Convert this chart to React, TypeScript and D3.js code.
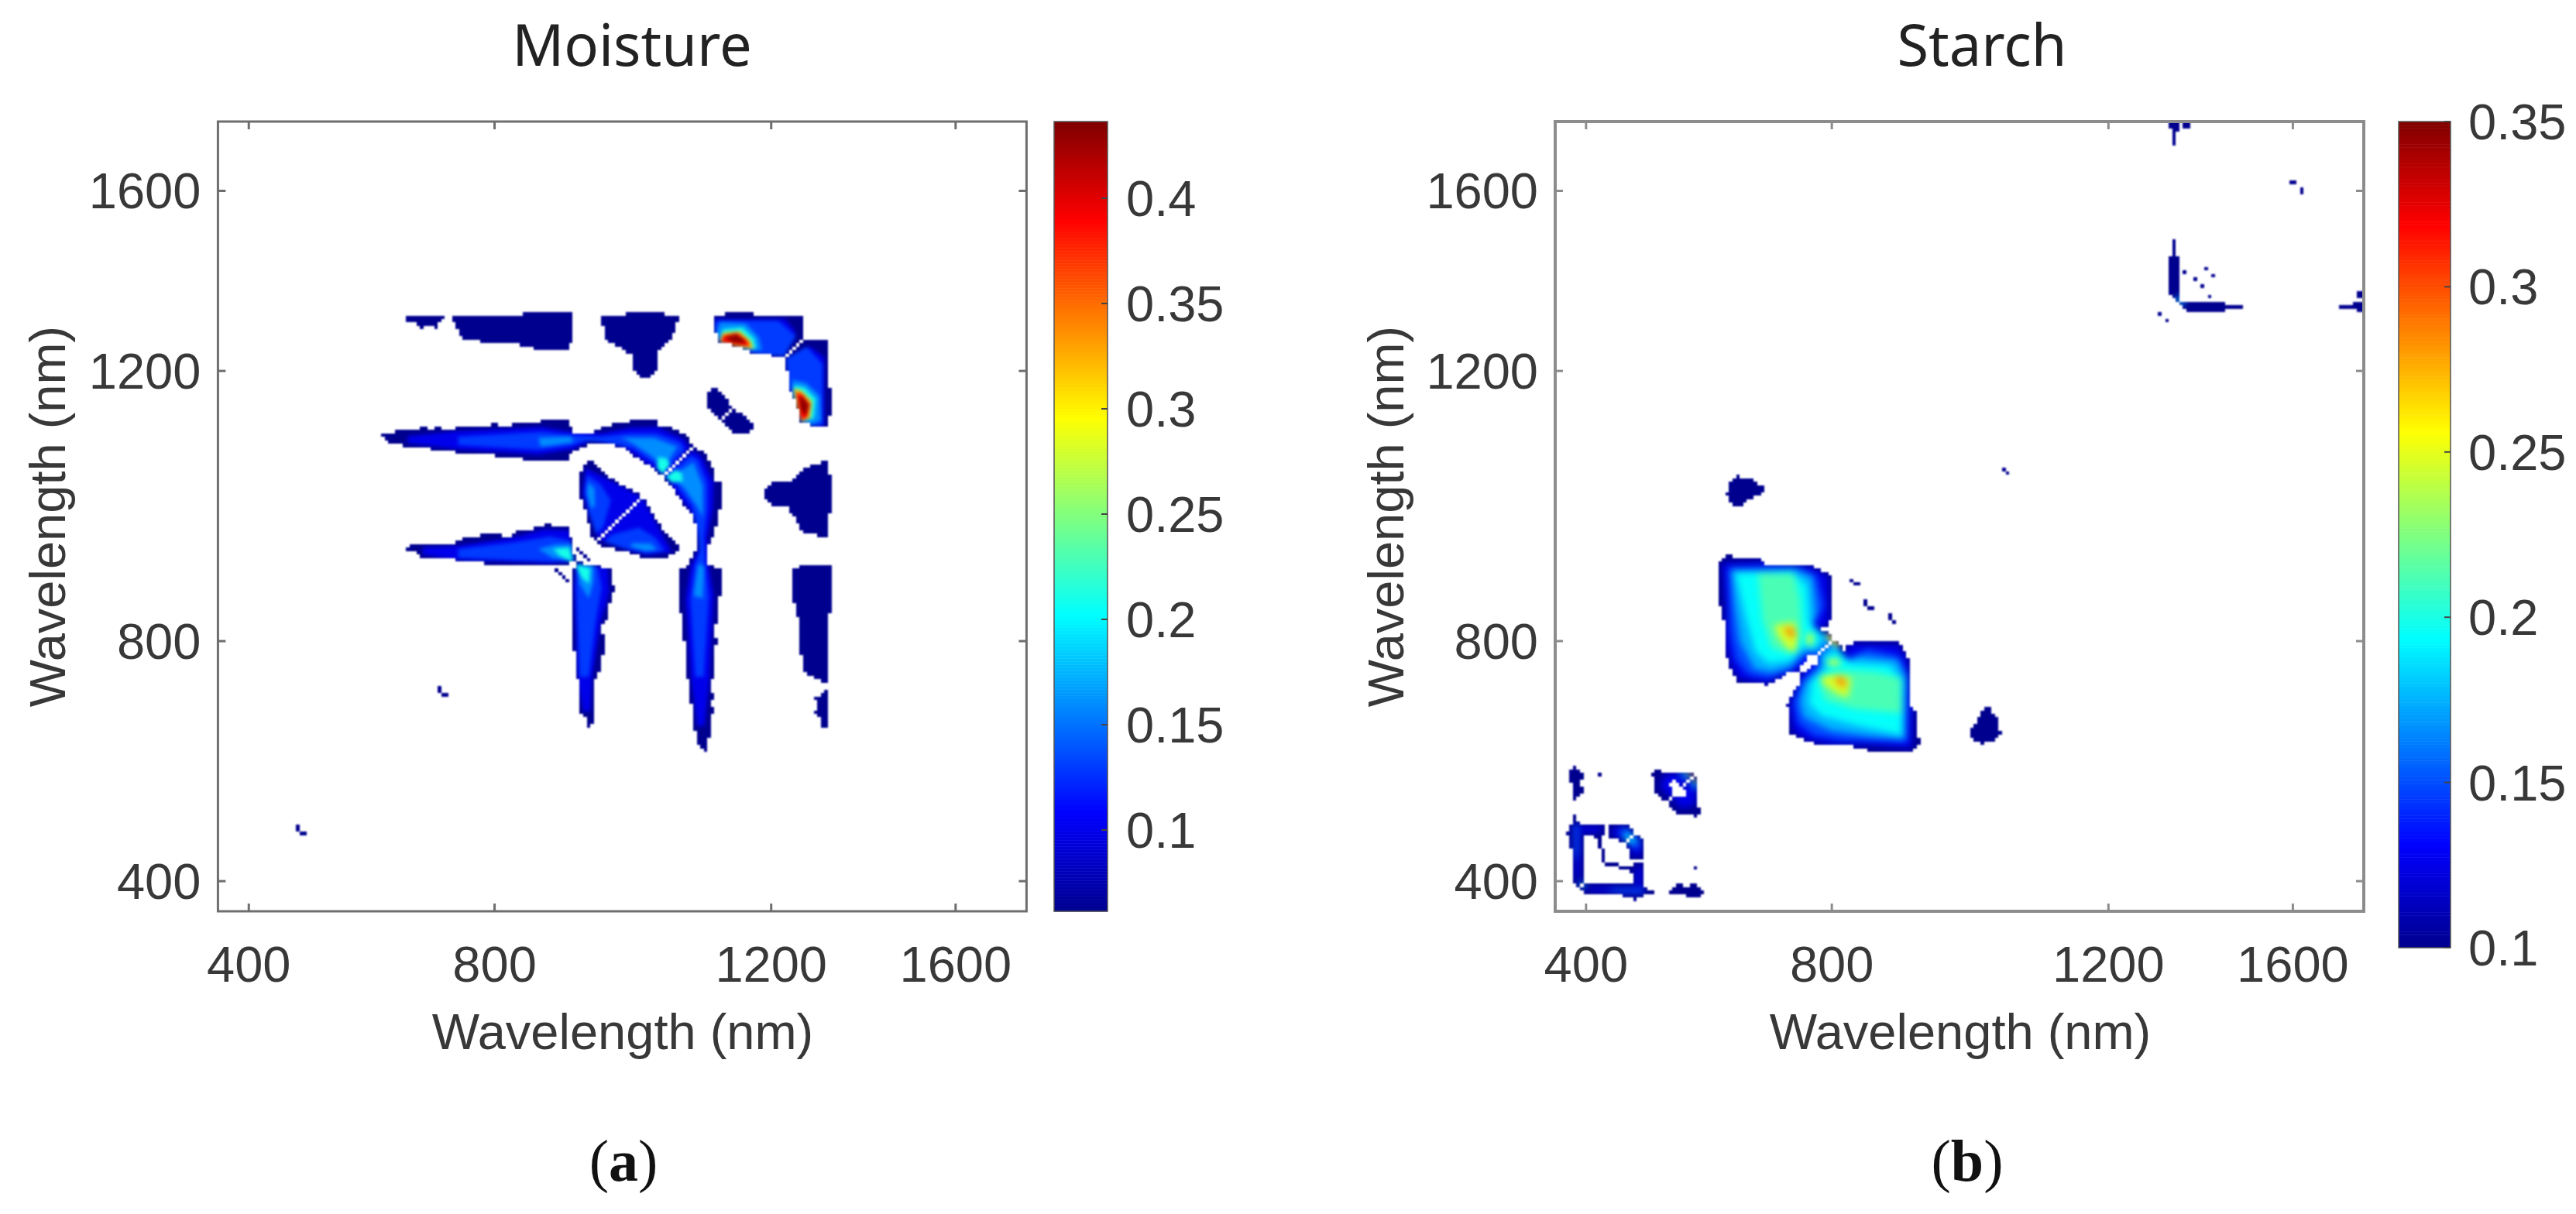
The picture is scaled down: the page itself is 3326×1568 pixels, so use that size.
import React, { useMemo } from 'react';
import * as d3 from 'd3';

type Pt = number[];
type Layer = { value: number; polys: Pt[][] };

// matrix is symmetric about the diagonal, so only the half above it is listed
// all coordinates below are band indices of the wavelength matrix
const bandCount = 228;
const tickBands = [8.7, 78, 156, 208];
const tickLabels = ['400', '800', '1200', '1600'];

const moistureCbTicks = [0.1, 0.15, 0.2, 0.25, 0.3, 0.35, 0.4];
const starchCbTicks = [0.1, 0.15, 0.2, 0.25, 0.3, 0.35];

const moistureOutlines: Pt[][] = [
  [[52.4,172],[63.8,172],[62.7,170],[61.9,168.2],[60.9,168.2],[60.4,169.4],[58.7,169.4],[58.4,168.2],[56.9,168.2],[56.4,169.5],[53.9,169.7]],
  [[65.6,172],[86.3,172],[86.3,173.2],[98.9,173.2],[100,172],[100,164.3],[99,164],[98.9,161.8],[92,161.8],[88.6,162.5],[84.6,163],[84.6,164.3],[79.8,164.4],[76.1,164.3],[69.8,164.8],[67.7,167.1],[66.7,169.7]],
  [[107.6,172],[115.5,172],[115.5,173.2],[125.8,173.2],[125.8,172],[130.4,172],[129.1,168.4],[127.7,165.4],[124.1,161.5],[123.5,155.7],[121.6,153.8],[120,153.8],[117.4,155.7],[117.2,160.2],[113.7,162.4],[109.3,164.9],[108.5,168.8]],
  [[139.6,172],[143.1,172],[143.1,173.2],[150.9,173.2],[150.9,172],[164.6,172],[164.8,165],[159.6,160.2],[151.3,161],[148.8,162.4],[141.3,164.5],[139.8,168.4]],
  [[137.9,150],[140,151.2],[142.5,149.1],[145.3,145.3],[141.4,141.4],[139.4,144],[137.9,146.1]],
  [[46,138],[56.9,139.3],[57.3,140.1],[58.7,140.1],[59,139.1],[61,139.1],[61.4,140.1],[62.7,140.1],[62.9,138.8],[67.3,138.8],[67.3,140.1],[76.5,140.1],[76.9,140.7],[79,140.7],[79.4,140.1],[83.2,140.1],[83.6,140.7],[91.3,140.7],[91.5,141.8],[98.6,141.8],[100,139.3],[100,138.2],[105.3,138.2],[107.8,139.3],[111.2,140.5],[115.3,140.8],[115.8,141.8],[123.7,141.8],[124.5,140.5],[128.7,139.3],[132,137.5],[134,134],[125.5,125.5],[121.2,129],[117,131.6],[114.5,133.7],[110.3,135.2],[105.3,135.4],[102.8,134.1],[100,132.8],[99,131.6],[98.6,130.3],[86.3,130.3],[86.1,131.4],[70.6,131.6],[67.3,132],[67.3,133.3],[52.7,133.7],[51.8,134.6],[48.1,135.4]],
  [[103.6,129.4],[105.7,130.3],[108.7,126.4],[112,124.3],[120,120],[107,107],[105.5,108],[103.6,115.3],[101.8,120.9],[102.4,126.9]],
  [[52.8,105.4],[57.7,105.9],[67.3,106.3],[67.3,107.2],[69.8,107.8],[74,107.8],[74.2,108.9],[79.8,108.9],[80.3,107.8],[82.6,107.8],[83.2,109.3],[87.8,110.2],[92,111.4],[92.1,112.5],[93.6,112.5],[93.8,111.2],[98.6,111.2],[99.5,108],[100,105.9],[101,101],[96,99.9],[93.6,99.9],[74.8,100.1],[74.4,100.7],[66.9,100.7],[66.9,102],[57.3,102.5],[57.3,103.3],[53.5,104.2]],
  [[62,66],[64,64],[63,63],[62,63.5]],
  [[22,25],[24,24],[23,23],[22,23]],
];

const moistureSpecks: Pt[] = [[101,104],[102,103],[103,102],[95,98],[97,96]];

const moistureHoles: Pt[][] = [];

const moistureLayers: Layer[] = [
  { value: 0.1, polys: [
    [[140,171],[160,171],[163,167],[159.6,161],[151,161.5],[141.5,165],[140,168]],
    [[53.5,137.2],[67.3,138.6],[91.1,139.8],[100,138.4],[107.8,138],[116.2,139.6],[123.7,139.8],[131.2,136.4],[133,134],[126,125.8],[120.4,129.6],[114.5,134],[105.3,136],[100,133.4],[90.3,131.8],[67.3,133.4],[53.5,135.2]],
    [[103.7,128],[108.2,125.6],[119.4,119.6],[107.2,107.6],[104.4,115.3],[102.8,120.9]],
    [[57.7,105],[67.3,105.5],[82.8,107.8],[92,110.3],[99,110],[100.4,101],[93.6,100.4],[67.3,101.4],[57.7,103]],
  ] },
  { value: 0.13, polys: [
    [[140.4,170.5],[158,170.5],[163,166],[159.6,160.2],[151,161],[148,162.4],[141.3,164.5],[140,168.4]],
    [[67.7,137],[91.1,138.4],[99.5,137.5],[107.8,137],[116.2,138],[123.7,138],[130.4,135.4],[131.6,133.3],[126.4,127.4],[122.9,129.4],[117,133.6],[109.5,135.4],[103.6,135.8],[99.5,134.4],[90.3,133.2],[67.7,134.6]],
    [[104,126],[107.8,123.4],[110.8,118.7],[108.7,111],[106.6,109],[104.6,115.3],[103.4,120.9]],
    [[67.7,104.6],[82.8,106.4],[93.6,108.2],[99.5,107],[100,101],[93.6,101],[67.7,102]],
  ] },
  { value: 0.16, polys: [
    [[141.7,170.1],[148.8,169.7],[152.5,165.8],[153.4,161.9],[148.8,162.4],[141.3,164.5],[140.4,167.1]],
    [[90.3,136.7],[99.5,137.1],[100.3,135.4],[91.1,134.1]],
    [[113.7,136.7],[122.9,136.7],[129.6,134.1],[125.8,128.1],[122,131.6],[117,135]],
    [[104.3,123.9],[106.2,122.1],[106.3,117],[105.3,116.2],[104,120.4]],
    [[90.3,104.6],[95.3,105.9],[99.9,105.9],[100.3,101.2],[94.5,102]],
  ] },
  { value: 0.21, polys: [
    [[142.3,168],[147.9,168.6],[151.2,165.4],[151.8,162.2],[148.8,162.2],[141.3,164.3]],
    [[124.1,131.1],[126.6,130.7],[127.5,129],[125.5,126.2],[123.7,128.1]],
    [[94.5,104.6],[99,105],[100.1,100.7],[96.5,102.5]],
  ] },
  { value: 0.32, polys: [[[142.4,167],[147.2,167.5],[150.2,164.7],[151,162.4],[145.4,163.2],[141.4,164.5]]] },
  { value: 0.39, polys: [[[142.6,166.2],[146.4,167],[149.2,164.8],[149.9,163],[145.4,163.7],[141.9,164.5]]] },
  { value: 0.43, polys: [[[143,165.8],[146.3,166.6],[148.4,165],[148.6,164],[145,164.2]]] },
];

const starchOutlines: Pt[][] = [
  [[45.6,100],[48.1,102.6],[58.3,101.9],[59,100.4],[66,100.4],[72.1,100],[78,97],[78.3,88.8],[77.2,82.1],[73.2,81],[76.5,80.6],[79.8,77.6],[66,66],[63,67.2],[60.1,65.3],[51.4,66.4],[49.2,70.2],[47.7,75.4],[47.4,88.1],[46,88.4]],
  [[48.8,122.8],[51.1,125.7],[55.7,125],[56.9,123.5],[59.7,122.4],[58,120.1],[54.6,119],[53.4,117.4],[49.9,117.4],[48.3,120.1]],
  [[27.4,40.3],[29.2,41.8],[30.6,40.3],[37.6,40.3],[39.4,39.4],[31,31],[28.8,33.6],[27.7,35.9]],
  [[4.1,40],[5.5,41.8],[7,40.7],[8.4,39.2],[7,36.6],[7.7,35.1],[7.3,32.9],[5.2,32.1],[4.7,35.9]],
  [[3,22.6],[4.4,24.7],[5.5,27.7],[7.3,25],[13.5,25],[13.9,22.1],[13,20.9],[14.2,14],[13,14],[12.2,21],[10.6,22.1],[8.4,21.7],[8.1,13.5],[7.9,8],[7,7],[5.5,8],[4.8,14],[4.4,20]],
  [[15.4,24.7],[20.8,25.1],[22.5,22.5],[20,20],[15,21.3]],
  [[173.3,188.7],[174.4,189.5],[174.4,193.6],[175.2,193.6],[175.2,189.5],[176.2,188.7],[176.2,177],[175.5,175.5],[173.3,178]],
  [[173.2,228],[176.5,228],[176.5,226],[175.2,225],[175.2,220.8],[174.3,220.8],[174.3,225],[173.2,226]],
  [[176.9,228],[178.7,228],[178.7,226.2],[176.9,226.2]],
  [[206,211.5],[209,211.5],[209.8,209.8],[207,210]],
];

const starchSpecks: Pt[] = [[84,94],[85,94],[83,95],[87,89],[88,87],[126,127],[12,39],[177,184],[180,182],[183,185],[170,172]];

const starchHoles: Pt[][] = [
  [[68.8,70.6],[72.1,74.2],[74.2,73],[71,69.4]],
  [[63.4,67.2],[66.3,69.6],[69.2,67.2],[66.3,63.6],[64.4,64.8]],
  [[32.5,36.6],[33.9,37.7],[37.6,33.6],[36.1,32.1],[33.9,33.6]],
];

const starchLayers: Layer[] = [
  { value: 0.125, polys: [
    [[47,100.6],[58,101],[71.8,99.6],[77,96.8],[77.2,83],[72.8,81.2],[79,78.4],[74,73],[71,71],[67.4,68.8],[63,67.2],[60.1,65.8],[51.8,67],[49.5,71],[48.2,76.1],[47.9,88.1]],
    [[31,39.6],[36.8,39.6],[38.3,38.9],[32.5,32.9],[29.5,35.9]],
    [[5,25],[7,25],[7,10],[6,8],[5.5,14]],
    [[7,24.5],[13,24.5],[13,22.8],[8,22.5]],
    [[16,24],[20,24.5],[21.5,22.5],[20,20.5],[16,22]],
  ] },
  { value: 0.15, polys: [
    [[48.8,99.2],[68.1,99.6],[73.6,97],[75.8,88.1],[72.8,82.4],[78.4,78.4],[73.6,74],[71,74],[66.7,69.6],[60.1,67.2],[54.3,68.4],[50.8,72.8],[49.4,80.6]],
    [[5.2,25],[6.5,25],[6.6,17],[5.8,14],[5.3,18]],
    [[18,24],[21,24],[22,22],[20,20.3],[18.5,21.5]],
  ] },
  { value: 0.175, polys: [
    [[49.6,98.6],[67.4,98.8],[72.5,96.5],[73.6,86],[72.5,82.4],[77.6,78.6],[73.8,74.6],[70.6,75],[66,70.4],[60.8,69],[56.2,70],[52.2,77.6],[50.6,88.1]],
    [[34.6,40],[37.6,40],[38.6,38.9],[36.8,38.1]],
    [[6.5,8.5],[8,8.5],[7.5,7]],
    [[175,177.5],[176.5,177.5],[176.5,175.5],[175.3,175.5]],
  ] },
  { value: 0.195, polys: [
    [[50.8,97.6],[66.7,98],[71,94],[71.6,83.6],[75,79],[73.4,76],[70,76.4],[66.4,72.4],[60.1,71.6],[56.5,75],[54,84],[52,92.5]],
    [[19.5,22.5],[21,22.5],[21.2,21],[20,20.5]],
  ] },
  { value: 0.212, polys: [
    [[57.2,97.6],[67.4,97.4],[69,90],[69.6,80.6],[66,74.4],[61,76],[58.5,84]],
  ] },
  { value: 0.245, polys: [
    [[61.6,82.6],[67.4,83.6],[68.6,79.1],[67.8,74.6],[65.6,75.6],[62.8,79.4]],
    [[71,80.2],[72.8,80],[72.4,76.6],[71,77.2]],
    [[76.4,80.4],[78,79.6],[79,78],[77,78]],
  ] },
  { value: 0.285, polys: [
    [[64.4,82],[67.2,81.6],[67.6,79],[66,79.4]],
    [[76.9,80.4],[78.3,79.7],[79.8,77.8],[78.7,77.6]],
    [[37.2,40.3],[38.6,40],[38.8,38.9],[37.8,39]],
  ] },
];

const jetStops = [0, 0.125, 0.375, 0.625, 0.875, 1];
const jetColors = ['#00008f', '#0000ff', '#00ffff', '#ffff00', '#ff0000', '#800000'];
const jet = d3.scaleLinear<string>().domain(jetStops).range(jetColors).interpolate(d3.interpolateRgb);

const sansFont = '"Liberation Sans", Arial, sans-serif';
const textColor = '#383838';

const swap = (poly: Pt[]): Pt[] => poly.map(([x, y]) => [y, x]);

// turn the outlines into one run of matrix cells per row, so edges stay blocky
function buildRuns(outlines: Pt[][], holes: Pt[][], specks: Pt[]) {
  const all = outlines.flatMap(p => [p, swap(p)]) as [number, number][][];
  const cut = holes.flatMap(p => [p, swap(p)]) as [number, number][][];
  const speckKeys = new Set(specks.flatMap(([c, r]) => [`${c},${r}`, `${r},${c}`]));
  const runs: { r: number; c0: number; c1: number }[] = [];
  for (let r = 0; r < bandCount; r++) {
    let start = -1;
    for (let c = 0; c <= bandCount; c++) {
      const pt: [number, number] = [c + 0.5, r + 0.5];
      const on = c < bandCount && c !== r &&
        (speckKeys.has(`${c},${r}`) || all.some(p => d3.polygonContains(p, pt))) &&
        !cut.some(p => d3.polygonContains(p, pt));
      if (on && start < 0) start = c;
      if (!on && start >= 0) {
        runs.push({ r, c0: start, c1: c });
        start = -1;
      }
    }
  }
  return runs;
}

interface PanelProps {
  id: string;
  title: string;
  tag: string;
  left: number;
  barLeft: number;
  barWidth: number;
  barBottom: number;
  barMin: number;
  barMax: number;
  barTicks: number[];
  barLabelX: number;
  titleX: number;
  xLabelX: number;
  yLabelX: number;
  tagX: number;
  frame: string;
  frameWidth: number;
  innerBlur: number;
  outlines: Pt[][];
  holes: Pt[][];
  specks: Pt[];
  layers: Layer[];
}

const top = 157;
const bottom = 1177;
const plotWidth = 1044;

const Panel: React.FC<PanelProps> = p => {
  const x = d3.scaleLinear().domain([0, bandCount]).range([p.left, p.left + plotWidth]);
  const y = d3.scaleLinear().domain([0, bandCount]).range([bottom, top]);
  const bar = d3.scaleLinear().domain([p.barMin, p.barMax]).range([p.barBottom, top]);
  const valueColor = (v: number) => jet((v - p.barMin) / (p.barMax - p.barMin));
  const runs = useMemo(() => buildRuns(p.outlines, p.holes, p.specks), [p.outlines, p.holes, p.specks]);
  const line = d3.line<Pt>().x(d => x(d[0])).y(d => y(d[1])).curve(d3.curveLinearClosed);
  const steps = d3.range(256);
  const right = p.left + plotWidth;
  const barRight = p.barLeft + p.barWidth;
  const runRects = runs.map(d => (
    <rect
      key={`${d.r}-${d.c0}`}
      x={x(d.c0)}
      y={y(d.r + 1)}
      width={x(d.c1) - x(d.c0)}
      height={y(d.r) - y(d.r + 1)}
      shapeRendering="crispEdges"
    />
  ));

  return (
    <g>
      <defs>
        <clipPath id={`${p.id}-mask`}>{runRects}</clipPath>
        <filter id={`${p.id}-inner`} filterUnits="userSpaceOnUse" x={p.left} y={top} width={plotWidth} height={bottom - top} colorInterpolationFilters="sRGB">
          <feGaussianBlur stdDeviation={p.innerBlur} />
        </filter>
        <filter id={`${p.id}-soft`} filterUnits="userSpaceOnUse" x={p.left} y={top} width={plotWidth} height={bottom - top} colorInterpolationFilters="sRGB">
          <feGaussianBlur stdDeviation={0.9} />
        </filter>
      </defs>

      <text x={p.titleX} y={85} textAnchor="middle" fontFamily='"Noto Sans", sans-serif' fontSize={74} fill="#222">{p.title}</text>

      <g filter={`url(#${p.id}-soft)`}>
        <g fill={valueColor(p.barMin)}>{runRects}</g>
        <g clipPath={`url(#${p.id}-mask)`}>
          <g filter={`url(#${p.id}-inner)`}>
            {p.layers.flatMap(layer =>
              layer.polys.flatMap((poly, i) => [
                <path key={`${layer.value}-${i}`} d={line(poly) ?? ''} fill={valueColor(layer.value)} />,
                <path key={`${layer.value}-${i}-m`} d={line(swap(poly)) ?? ''} fill={valueColor(layer.value)} />,
              ])
            )}
          </g>
        </g>
      </g>

      <rect x={p.left} y={top} width={plotWidth} height={bottom - top} fill="none" stroke={p.frame} strokeWidth={p.frameWidth} />
      {tickBands.map(b => (
        <g key={b} stroke={p.frame} strokeWidth={3}>
          <line x1={x(b)} x2={x(b)} y1={bottom} y2={bottom - 10} />
          <line x1={x(b)} x2={x(b)} y1={top} y2={top + 10} />
          <line x1={p.left} x2={p.left + 10} y1={y(b)} y2={y(b)} />
          <line x1={right} x2={right - 10} y1={y(b)} y2={y(b)} />
        </g>
      ))}

      <g fontFamily={sansFont} fontSize={65} fill={textColor}>
        {tickBands.map((b, i) => (
          <text key={b} x={x(b)} y={1268} textAnchor="middle">{tickLabels[i]}</text>
        ))}
        {tickBands.map((b, i) => (
          <text key={b} x={p.left - 22} y={y(b) + 23} textAnchor="end">{tickLabels[i]}</text>
        ))}
        <text x={p.xLabelX} y={1355} textAnchor="middle">Wavelength (nm)</text>
        <text transform={`translate(${p.yLabelX},667) rotate(-90)`} textAnchor="middle">Wavelength (nm)</text>
        {p.barTicks.map(t => (
          <text key={t} x={p.barLabelX} y={bar(t) + 23}>{t}</text>
        ))}
      </g>

      {steps.map(s => {
        const v0 = p.barMin + (s / 256) * (p.barMax - p.barMin);
        const v1 = p.barMin + ((s + 1) / 256) * (p.barMax - p.barMin);
        return (
          <rect
            key={s}
            x={p.barLeft}
            y={bar(v1)}
            width={p.barWidth}
            height={bar(v0) - bar(v1) + 0.5}
            fill={valueColor((v0 + v1) / 2)}
          />
        );
      })}
      <rect x={p.barLeft} y={top} width={p.barWidth} height={p.barBottom - top} fill="none" stroke="#555" strokeWidth={1.5} />
      {p.barTicks.map(t => (
        <line key={t} x1={barRight} x2={barRight - 8} y1={bar(t)} y2={bar(t)} stroke="#444" strokeWidth={2} />
      ))}

      <text x={p.tagX} y={1525} textAnchor="middle" fontFamily='"Liberation Serif", serif' fontSize={76} fill="#111">
        (<tspan fontWeight="bold">{p.tag}</tspan>)
      </text>
    </g>
  );
};

export default function App() {
  return (
    <svg width={3326} height={1568} style={{ position: 'absolute', left: 0, top: 0, background: '#fff' }}>
      <Panel
        id="moisture"
        title="Moisture"
        tag="a"
        left={281.4}
        barLeft={1361}
        barWidth={69}
        barBottom={1177}
        barMin={0.0614}
        barMax={0.4364}
        barTicks={moistureCbTicks}
        barLabelX={1454}
        titleX={816}
        xLabelX={804}
        yLabelX={84}
        tagX={805}
        frame="#6e6e6e"
        frameWidth={3}
        innerBlur={2.2}
        outlines={moistureOutlines}
        holes={moistureHoles}
        specks={moistureSpecks}
        layers={moistureLayers}
      />
      <Panel
        id="starch"
        title="Starch"
        tag="b"
        left={2008}
        barLeft={3097}
        barWidth={67}
        barBottom={1224}
        barMin={0.1}
        barMax={0.35}
        barTicks={starchCbTicks}
        barLabelX={3187}
        titleX={2559}
        xLabelX={2531}
        yLabelX={1812}
        tagX={2540}
        frame="#8c8c8c"
        frameWidth={4}
        innerBlur={4.5}
        outlines={starchOutlines}
        holes={starchHoles}
        specks={starchSpecks}
        layers={starchLayers}
      />
    </svg>
  );
}
